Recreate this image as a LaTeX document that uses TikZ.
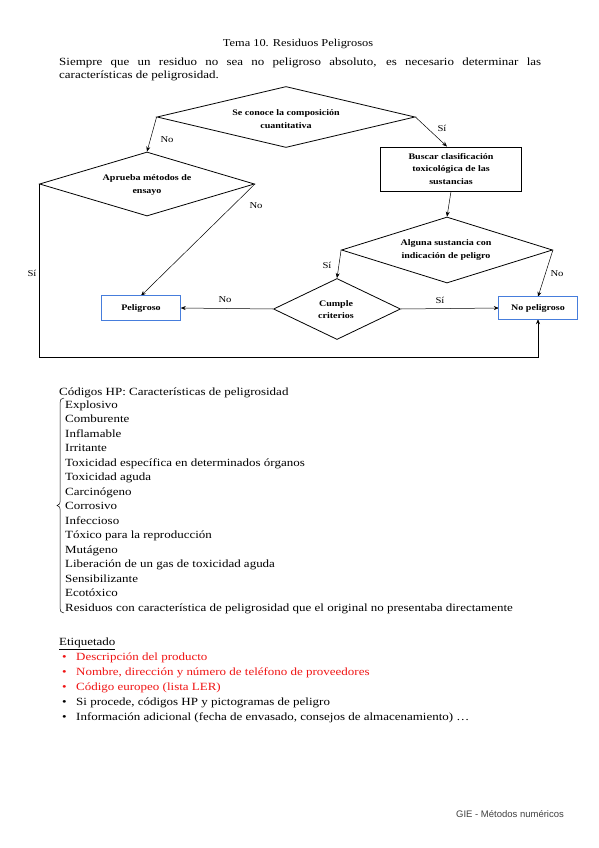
\documentclass[tikz,border=0pt]{standalone}
\usepackage{fontspec}
\setmainfont{Liberation Serif}[FakeStretch=1.18]
\newfontfamily\footfont{Liberation Sans}
\usetikzlibrary{shapes.geometric,arrows.meta,calc}
\definecolor{boxblue}{RGB}{70,125,220}
\definecolor{hpred}{RGB}{240,20,20}
\begin{document}
\begin{tikzpicture}[x=1pt,y=-1pt,
  dia/.style={draw,diamond,line width=0.8pt,inner sep=0pt},
  dtext/.style={inner sep=0pt,align=center,font=\fontsize{8.5}{12.5}\selectfont\bfseries},
  procbox/.style={draw,rectangle,line width=0.9pt,inner sep=0pt,align=center,font=\fontsize{8.5}{12.5}\selectfont\bfseries},
  endbox/.style={rectangle,inner sep=0pt,align=center,font=\fontsize{8.5}{10}\selectfont\bfseries},
  endborder/.style={draw=boxblue,line width=1pt},
  conn/.style={line width=0.5pt,-{Stealth[length=5pt,width=4pt]}},
  lbl/.style={font=\fontsize{9}{10}\selectfont,inner sep=0pt},
  item/.style={anchor=base west,inner sep=0pt,font=\fontsize{11}{13}\selectfont},
  bul/.style={anchor=base west,inner sep=0pt,font=\fontsize{11}{13}\selectfont}
]
\useasboundingbox[fill=white] (0,0) rectangle (599,848);

% title and intro
\node[inner sep=0pt,font=\fontsize{10.5}{12}\selectfont] (title) at (298,44) {Tema 10. Residuos Peligrosos};
\node[anchor=north west,inner sep=0pt,text width=482pt,align=justify,font=\fontsize{11}{13}\selectfont] (intro) at (59,58)
  {\hyphenpenalty=10000 Siempre que un residuo no sea no peligroso absoluto, es necesario determinar las\linebreak características de peligrosidad.};

% flowchart nodes
\node[dia,minimum width=258pt,minimum height=61pt] (d1) at (286,117) {};
\node[dtext] (t1) at (286,119) {Se conoce la composición\\cuantitativa};
\node[dia,minimum width=215pt,minimum height=64pt] (d2) at (147,184) {};
\node[dtext] (t2) at (147,185) {Aprueba métodos de\\ensayo};
\node[procbox,minimum width=141pt,minimum height=44pt] (bus) at (451,169) {Buscar clasificación\\toxicológica de las\\sustancias};
\node[dia,minimum width=211pt,minimum height=66pt] (d3) at (447,250) {};
\node[dtext] (t3) at (446,250) {Alguna sustancia con\\indicación de peligro};
\node[dia,minimum width=127pt,minimum height=61pt] (d4) at (337,309) {};
\node[dtext] (t4) at (336,309.5) {Cumple\\criterios};
\node[endbox,minimum width=79pt,minimum height=24pt] (pel) at (141,308) {Peligroso};
\node[endbox,minimum width=78pt,minimum height=22pt] (np) at (538,308) {No peligroso};
\coordinate (low) at (0,357);

% connectors
\draw[conn] (d1.west) -- (d2.north);
\draw[conn] (d1.east) -- ($(bus.north)+(-4,0)$);
\draw[conn] (bus.south) -- (d3.north);
\draw[conn] (d3.west) -- (d4.north);
\draw[conn] (d3.east) -- (np.north);
\draw[conn] (d4.east) -- (np.west);
\draw[conn] (d4.west) -- (pel.east);
\draw[conn] (d2.east) -- (pel.north);
\draw[conn] (d2.west) -- (d2.west |- low) -- (np.south |- low) -- (np.south);

% blue borders of the end boxes
\draw[endborder] (pel.south west) rectangle (pel.north east);
\draw[endborder] (np.south west) rectangle (np.north east);

% labels
\node[lbl] (l1) at (167,140) {No};
\node[lbl] (l2) at (442,128) {Sí};
\node[lbl] (l3) at (256,206) {No};
\node[lbl] (l4) at (327,265) {Sí};
\node[lbl] (l5) at (557,274) {No};
\node[lbl] (l6) at (440,300) {Sí};
\node[lbl] (l7) at (225,300) {No};
\node[lbl] (l8) at (32,273) {Sí};

% HP codes
\node[item] (hp) at (59,395) {Códigos HP: Características de peligrosidad};
\node[item] (i1) at (65,408) {Explosivo};
\node[item] (i2) at (65,422.5) {Comburente};
\node[item] (i3) at (65,437) {Inflamable};
\node[item] (i4) at (65,451.5) {Irritante};
\node[item] (i5) at (65,466) {Toxicidad específica en determinados órganos};
\node[item] (i6) at (65,480.5) {Toxicidad aguda};
\node[item] (i7) at (65,495) {Carcinógeno};
\node[item] (i8) at (65,509.5) {Corrosivo};
\node[item] (i9) at (65,524) {Infeccioso};
\node[item] (i10) at (65,538.5) {Tóxico para la reproducción};
\node[item] (i11) at (65,553) {Mutágeno};
\node[item] (i12) at (65,567.5) {Liberación de un gas de toxicidad aguda};
\node[item] (i13) at (65,582) {Sensibilizante};
\node[item] (i14) at (65,596.5) {Ecotóxico};
\node[item] (i15) at (65,611) {Residuos con característica de peligrosidad que el original no presentaba directamente};
\draw[line width=0.5pt] (64,398) .. controls (61,398) and (60,400) .. (60,403) -- (60,502)
  .. controls (60,504) .. (57,505.5) .. controls (60,507) .. (60,509) -- (60,608)
  .. controls (60,611) and (61,613) .. (64,613);

% Etiquetado
\node[item] (et) at (59,645) {\underline{Etiquetado}};
\foreach \y/\t/\c [count=\k] in {660/Descripción del producto/hpred,
  675/{Nombre, dirección y número de teléfono de proveedores}/hpred,
  690/Código europeo (lista LER)/hpred,
  705/{Si procede, códigos HP y pictogramas de peligro}/black,
  720/{Información adicional (fecha de envasado, consejos de almacenamiento) …}/black}{
  \node[bul,text=\c] (b\k) at (62,\y) {\textbullet};
  \node[item,text=\c] (e\k) at (76,\y) {\t};
}

% footer
\node[inner sep=0pt,font=\footfont\fontsize{9.5}{11}\selectfont,text=black!75] (foot) at (510,814) {GIE - Métodos numéricos};
\end{tikzpicture}
\end{document}
